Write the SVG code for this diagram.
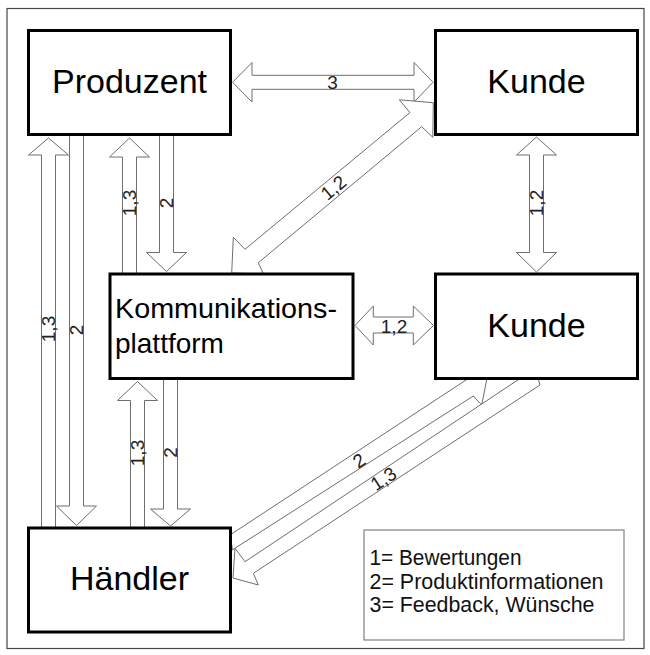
<svg xmlns="http://www.w3.org/2000/svg" width="650" height="655" viewBox="0 0 650 655">
<style>
.box{fill:#fff;stroke:#000;stroke-width:3}
.arr{fill:#fff;stroke:#6e6e6e;stroke-width:1;stroke-linejoin:miter}
.big{font-family:"Liberation Sans",Arial,sans-serif;font-size:34px;fill:#000;text-anchor:middle}
.mid{font-family:"Liberation Sans",Arial,sans-serif;font-size:28px;fill:#000}
.lbl{font-family:"Liberation Sans",Arial,sans-serif;font-size:19px;fill:#222;text-anchor:middle}
.leg{font-family:"Liberation Sans",Arial,sans-serif;font-size:22px;fill:#111}
</style>
<rect x="0" y="0" width="650" height="655" fill="#fff"/>
<rect x="7" y="8.5" width="637" height="640" fill="none" stroke="#444" stroke-width="1.2"/>

<g id="connectors">
  <!-- 3: Produzent <-> Kunde -->
  <polygon class="arr" points="232.5,82.3 252,62.5 252,75.3 414,75.3 414,62.5 433,82.3 414,102 414,89.3 252,89.3 252,102"/>
  <!-- 1,2: Kommunikationsplattform <-> Kunde (diagonal) -->
  <polygon class="arr" points="231.7,273 233.3,237.3 245,249.3 410,112.5 399.3,99.8 433.3,102.7 432.8,137.3 421.7,126.7 258.3,262.7 263.5,274"/>
  <!-- 1,2: Kunde <-> Kunde -->
  <polygon class="arr" points="536.5,137 556.5,155 543.5,155 543.5,252.5 556.5,252.5 536.5,272 516.5,252.5 529.5,252.5 529.5,155 516.5,155"/>
  <!-- 1,2: Kommunikationsplattform <-> Kunde (horizontal) -->
  <polygon class="arr" points="355,325.5 373.3,306 373.3,317 413.3,317 413.3,306 433.5,325.5 413.3,345 413.3,333 373.3,333 373.3,345"/>
  <!-- 1,3: Haendler -> Produzent -->
  <polygon class="arr" points="48.5,138 68.5,155 55.5,155 55.5,528 41.5,528 41.5,155 28.5,155"/>
  <!-- 2: Produzent -> Haendler -->
  <polygon class="arr" points="69.5,134 83.5,134 83.5,506 96.5,506 76.5,525.5 56.5,506 69.5,506"/>
  <!-- 1,3: Kommunikationsplattform -> Produzent -->
  <polygon class="arr" points="129.5,138 149.5,157 136.5,157 136.5,274 122.5,274 122.5,157 109.5,157"/>
  <!-- 2: Produzent -> Kommunikationsplattform -->
  <polygon class="arr" points="159.5,134 173.5,134 173.5,252.5 186.5,252.5 166.5,271.5 146.5,252.5 159.5,252.5"/>
  <!-- 1,3: Haendler -> Kommunikationsplattform -->
  <polygon class="arr" points="137.5,381.5 157.5,400.5 144.5,400.5 144.5,528 130.5,528 130.5,400.5 117.5,400.5"/>
  <!-- 2: Kommunikationsplattform -> Haendler -->
  <polygon class="arr" points="163.5,378 177.5,378 177.5,509 190.5,509 170.5,526 150.5,509 163.5,509"/>
  <!-- 2: Haendler -> Kunde -->
  <polygon class="arr" points="230,535 468,378.7 489,368 481.7,405 473.3,396 232.5,549.8"/>
  <!-- 1,3: Kunde -> Haendler -->
  <polygon class="arr" points="520,378.5 245,561.7 235,548.3 233,578 258.3,585 253.3,573.3 540,385 538,378"/>

  <text class="lbl" x="332.5" y="88.5">3</text>
  <text class="lbl" x="394" y="333">1,2</text>
  <text class="lbl" transform="translate(333.3,187.5) rotate(-39.7)" y="6.8">1,2</text>
  <text class="lbl" transform="translate(536.5,203) rotate(-90)" y="6.8">1,2</text>
  <text class="lbl" transform="translate(48.5,329) rotate(-90)" y="6.8">1,3</text>
  <text class="lbl" transform="translate(76.5,330) rotate(-90)" y="6.8">2</text>
  <text class="lbl" transform="translate(129.5,203) rotate(-90)" y="6.8">1,3</text>
  <text class="lbl" transform="translate(166.5,203) rotate(-90)" y="6.8">2</text>
  <text class="lbl" transform="translate(137.5,453) rotate(-90)" y="6.8">1,3</text>
  <text class="lbl" transform="translate(170.5,452.5) rotate(-90)" y="6.8">2</text>
  <text class="lbl" transform="translate(359,460.5) rotate(-33.3)" y="6.8">2</text>
  <text class="lbl" transform="translate(383.3,478.5) rotate(-33.3)" y="6.8">1,3</text>
</g>

<g id="produzent">
  <rect class="box" x="28.5" y="30.5" width="202" height="104"/>
  <text class="big" x="129.5" y="93">Produzent</text>
</g>
<g id="kunde1">
  <rect class="box" x="435.5" y="30.5" width="202" height="104"/>
  <text class="big" x="536.5" y="93">Kunde</text>
</g>
<g id="kommunikationsplattform">
  <rect class="box" x="110" y="274" width="243" height="104.5"/>
  <text class="mid" x="115" y="318" textLength="222" lengthAdjust="spacingAndGlyphs">Kommunikations-</text>
  <text class="mid" x="115" y="352.5">plattform</text>
</g>
<g id="kunde2">
  <rect class="box" x="435.5" y="274" width="202" height="104.5"/>
  <text class="big" x="536.5" y="337">Kunde</text>
</g>
<g id="haendler">
  <rect class="box" x="28.5" y="528" width="202" height="104"/>
  <text class="big" x="129.5" y="590">Händler</text>
</g>
<g id="legend">
  <rect x="364" y="530" width="260" height="110" fill="#fff" stroke="#808080" stroke-width="1.2"/>
  <text class="leg" x="369.5" y="565" textLength="152" lengthAdjust="spacingAndGlyphs">1= Bewertungen</text>
  <text class="leg" x="369.5" y="589" textLength="234" lengthAdjust="spacingAndGlyphs">2= Produktinformationen</text>
  <text class="leg" x="369.5" y="612" textLength="225" lengthAdjust="spacingAndGlyphs">3= Feedback, Wünsche</text>
</g>
</svg>
